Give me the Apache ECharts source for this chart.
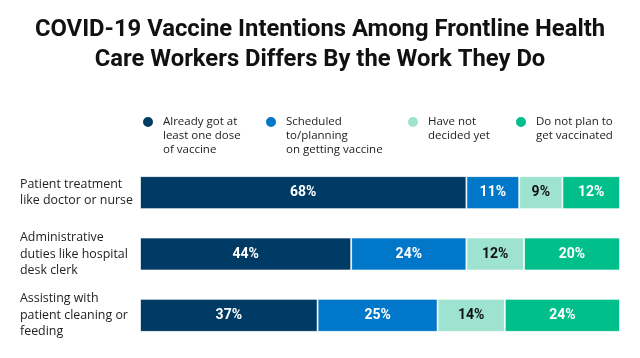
<!DOCTYPE html>
<html><head><meta charset="utf-8">
<script src="https://cdn.jsdelivr.net/npm/echarts@6/dist/echarts.min.js"></script>
<style>html,body{margin:0;padding:0;background:#fff}#c{width:640px;height:358px}</style>
</head><body><div id="c"></div>
<script>
const categories = ["Patient treatment\nlike doctor or nurse", "Administrative\nduties like hospital\ndesk clerk", "Assisting with\npatient cleaning or\nfeeding"];
const seriesNames = ["Already got at\nleast one dose\nof vaccine", "Scheduled\nto/planning\non getting vaccine", "Have not\ndecided yet", "Do not plan to\nget vaccinated"];
const alreadyGot = [68, 44, 37];
const scheduled = [11, 24, 25];
const notDecided = [9, 12, 14];
const noPlan = [12, 20, 24];
const colors = ["#003b65", "#0077c8", "#9ee3cf", "#00bf8a"];
const labelColors = ["#fff", "#fff", "#111", "#fff"];
const legendLeft = [141, 264, 406, 514];

const values = [alreadyGot, scheduled, notDecided, noPlan];
const LH = 14;
const chart = echarts.init(document.getElementById('c'));
chart.setOption({
  animation: false,
  title: {
    text: "COVID-19 Vaccine Intentions Among Frontline Health\nCare Workers Differs By the Work They Do",
    left: 'center', top: 15, padding: 0,
    textStyle: {fontFamily: 'Roboto', fontWeight: 'bold', fontSize: 23.8, lineHeight: 30, color: '#111'}
  },
  legend: seriesNames.map((n, i) => {
    const k = n.split('\n').length;
    const total = 2 * k - 1;
    const textTop = 6 - total * LH / 2;
    return {
      data: [{name: n}],
      left: legendLeft[i], top: 116 + textTop, padding: 0,
      icon: 'circle', itemWidth: 12, itemHeight: 12,
      selectedMode: false,
      formatter: name => ' \n'.repeat(k - 1) + name,
      textStyle: {fontFamily: 'Open Sans', fontSize: 11.5, lineHeight: LH, color: '#222',
        padding: [0, 0, 0, 4]}
    };
  }),
  grid: {left: 140, right: 20, top: 162, bottom: 12},
  xAxis: {type: 'value', min: 0, max: 100, show: false},
  yAxis: {
    type: 'category', data: categories, inverse: true,
    axisLine: {show: false}, axisTick: {show: false},
    axisLabel: {align: 'left', margin: 120, fontFamily: 'Open Sans', fontSize: 12.4, lineHeight: 16.5, color: '#222'}
  },
  series: seriesNames.map((n, i) => ({
    name: n, type: 'bar', stack: 'all', barWidth: 33,
    data: values[i],
    itemStyle: {color: colors[i], borderColor: '#fff', borderWidth: 0.8},
    label: {show: true, position: 'inside', formatter: '{c}%',
      fontFamily: 'Roboto', fontWeight: 'bold', fontSize: 14, color: labelColors[i]}
  }))
});
</script></body></html>
